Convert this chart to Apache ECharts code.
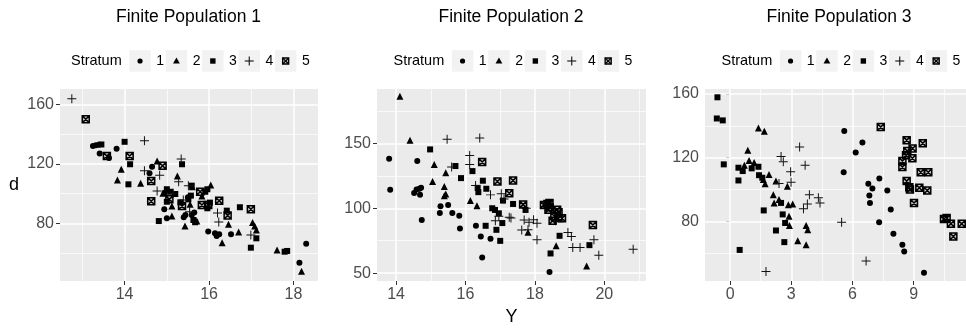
<!DOCTYPE html>
<html lang="en">
<head>
    <meta charset="UTF-8">
    <title>Finite Population</title>
    <script src="https://cdn.jsdelivr.net/npm/echarts@6/dist/echarts.min.js"></script>
    <style>
        html, body {margin: 0; padding: 0; background: #fff;}
        #ec {width: 966px; height: 331px;}
    </style>
</head>
<body>
<div id="ec"></div>
<script>
    // strata and titles
    var strata = ['1', '2', '3', '4', '5'];
    var titles = ['Finite Population 1', 'Finite Population 2', 'Finite Population 3'];

    // Finite Population 1 : [Y, d]
    var pop1Str1 = [[13.25, 132], [13.32, 132.5], [13.39, 132.8], [13.41, 127], [13.63, 123.9], [13.81, 130.2], [14.59, 113.6],
        [14.65, 118.1], [14.94, 89.4], [15.0, 83.4], [15.4, 84], [15.44, 85.6], [15.59, 85.6], [15.65, 87.2], [15.98, 74.4],
        [16.14, 73.3], [16.18, 71.5], [16.24, 72.6], [16.52, 72.6], [18.3, 66.3], [18.14, 53.5], [14.95, 100.5], [15.5, 97.5]];
    var pop1Str2 = [[13.92, 116.3], [13.83, 109.1], [14.38, 106.9], [14.77, 121.9], [15.25, 111.8], [16.04, 105.7], [15.83, 98.4],
        [14.91, 100.2], [15.12, 91.6], [15.55, 92.8], [15.12, 84.9], [15.43, 78.2], [15.71, 81.5], [16.31, 67], [16.46, 79.4],
        [16.7, 74.2], [17.03, 80.6], [17.08, 78.2], [17.12, 75.5], [17.61, 62], [18.19, 47.7], [15.6, 104.5]];
    var pop1Str3 = [[13.45, 133], [14.0, 134.8], [14.13, 119.7], [14.09, 106.2], [14.81, 81.5], [15.36, 119.7], [15.59, 105.3],
        [15.91, 101.2], [15.96, 102.9], [15.0, 102.9], [15.08, 101.2], [15.2, 99.7], [15.0, 94.5], [15.32, 94.1], [15.51, 96.1],
        [15.57, 98.6], [15.96, 90.1], [16.02, 93.9], [16.42, 88.5], [16.73, 90.8], [17.12, 69.9], [16.99, 63.6], [17.79, 60.9],
        [17.85, 61.4], [15.63, 82.2], [15.67, 80.7]];
    var pop1Str4 = [[12.75, 163.8], [14.47, 135.5], [14.47, 115.4], [14.83, 112.3], [14.77, 101.7], [15.34, 123.2], [15.28, 108],
        [15.51, 105.3], [15.39, 95.7], [15.54, 87.8], [16.2, 87], [16.23, 80.8], [16.99, 72.1], [15.15, 100.2]];
    var pop1Str5 = [[13.08, 149.9], [13.58, 125.2], [14.12, 125.2], [14.9, 118.7], [14.63, 108.4], [14.63, 94.8], [15.06, 96.1],
        [15.36, 91.6], [15.79, 101.2], [15.83, 92.3], [15.98, 92.3], [16.24, 95.1], [16.44, 85.3], [16.99, 89.4]];

    // Finite Population 2
    var pop2Str1 = [[13.8, 138.1], [13.83, 114.2], [14.61, 136.3], [14.52, 111.8], [14.59, 114.4], [14.67, 115], [14.72, 115.7],
        [14.69, 110.3], [14.74, 91], [15.28, 101.6], [15.5, 102.6], [15.26, 96.4], [15.62, 96.4], [15.82, 94.3], [15.84, 84.5],
        [16.3, 86.5], [16.44, 78.3], [16.48, 62.1], [16.72, 76.6], [18.42, 51]];
    var pop2Str2 = [[14.11, 186.3], [14.4, 152.3], [15.1, 133.7], [15.05, 120.6], [15.43, 127.3], [15.39, 116.7], [15.43, 111],
        [15.39, 109.7], [16.14, 105.9], [16.33, 102], [17.8, 81.5], [18.61, 71.1], [19.49, 55.6]];
    var pop2Str3 = [[14.98, 145.3], [15.71, 132.5], [15.87, 123.2], [16.2, 128.6], [16.5, 121.2], [16.35, 115.7], [16.37, 112.4],
        [16.6, 115], [16.58, 86.5], [16.77, 100], [16.85, 98.7], [16.96, 96.1], [16.89, 83.4], [17.0, 74.9], [17.08, 105.9],
        [17.06, 88.6], [17.37, 103.3], [17.73, 98.7], [18.71, 78.8], [18.45, 65.2], [19.57, 71.6]];
    var pop2Str4 = [[15.47, 153.1], [16.41, 154.1], [15.6, 131.7], [16.12, 140.7], [16.12, 133.7], [16.29, 117.5], [16.72, 110.3],
        [16.86, 90.4], [16.96, 93.8], [17.03, 111.1], [17.11, 107.2], [17.26, 93], [17.31, 92.5], [17.75, 100], [17.62, 83.2],
        [17.8, 83.4], [17.69, 91], [17.83, 89.2], [17.96, 91.2], [18.06, 88.4], [18.06, 75.7], [18.59, 90.4], [18.95, 81.4],
        [19.05, 78.3], [19.09, 69.8], [19.3, 69.8], [19.7, 75.7], [19.84, 63.9], [20.83, 68.5]];
    var pop2Str5 = [[16.48, 135.6], [16.92, 120.6], [17.37, 121.3], [17.26, 111.6], [17.66, 102.8], [18.26, 102.6], [18.36, 103.3],
        [18.42, 104.1], [18.42, 100.8], [18.39, 98.9], [18.51, 90.4], [18.64, 98.9], [18.68, 96.9], [18.56, 93.8], [18.68, 92.5],
        [18.78, 92.3], [19.67, 87.1]];

    // Finite Population 3
    var pop3Str1 = [[5.6, 136.8], [6.16, 123.2], [6.49, 129.5], [5.57, 110.9], [6.78, 103.6], [6.98, 100.6], [6.83, 96.2],
        [6.86, 91.6], [7.32, 107], [7.71, 99.4], [7.88, 87.4], [7.31, 79.4], [8.01, 72.2], [8.45, 65.3], [8.54, 61.1], [9.51, 47.8]];
    var pop3Str2 = [[1.39, 138.7], [1.68, 136.6], [0.87, 124.6], [0.7, 115.2], [0.93, 118.3], [1.18, 116.9], [1.91, 109.5],
        [1.72, 103.6], [1.63, 106.3], [2.25, 105.3], [2.81, 102.1], [2.12, 96.7], [2.16, 91.6], [2.4, 93.7], [2.86, 90.5],
        [3.07, 91], [2.89, 83.2], [2.91, 77.5], [3.32, 67.8], [3.73, 77.5], [3.81, 74.8], [3.73, 65.3]];
    var pop3Str3 = [[-0.62, 157.9], [-0.65, 144.6], [-0.36, 143.4], [-0.31, 115.8], [0.41, 113.7], [0.62, 111.6], [1.06, 113.3],
        [1.39, 114.3], [0.41, 105.7], [1.42, 109], [1.58, 107.4], [2.5, 91.6], [1.65, 86.9], [2.58, 84.4], [2.7, 79],
        [2.25, 74.3], [2.66, 67], [0.47, 62.1]];
    var pop3Str4 = [[2.4, 103.8], [2.99, 104.6], [2.97, 111.2], [2.5, 120.7], [2.61, 117.5], [3.41, 126.7], [3.68, 115.2],
        [3.89, 96.7], [4.33, 94.8], [4.41, 91.6], [3.79, 91], [3.6, 88], [5.47, 79.4], [6.67, 55.2], [1.76, 48.5]];
    var pop3Str5 = [[7.39, 139.3], [8.66, 131], [9.45, 129.1], [8.95, 125.7], [8.69, 124.2], [8.63, 121.5], [8.94, 119.6],
        [8.45, 117.9], [8.45, 114.1], [9.35, 110.9], [9.72, 110.9], [8.66, 105.3], [8.79, 101.5], [8.82, 100], [9.28, 101.1],
        [9.67, 99.4], [9.02, 91.6], [10.49, 81.5], [10.62, 82.1], [10.83, 78.5], [11.36, 78.5], [10.95, 70.5]];

    // axis ranges and breaks
    var pop1XRange = [12.47, 18.58], pop1YRange = [41.2, 170.3];
    var pop2XRange = [13.45, 21.2], pop2YRange = [44, 191.8];
    var pop3XRange = [-1.23, 11.57], pop3YRange = [42.6, 163.1];
    var pop1XTicks = [14, 16, 18], pop1XMinor = [13, 15, 17];
    var pop1YTicks = [80, 120, 160], pop1YMinor = [60, 100, 140];
    var pop2XTicks = [14, 16, 18, 20], pop2XMinor = [15, 17, 19, 21];
    var pop2YTicks = [50, 100, 150], pop2YMinor = [75, 125, 175];
    var pop3XTicks = [0, 3, 6, 9], pop3XMinor = [1.5, 4.5, 7.5, 10.5];
    var pop3YTicks = [80, 120, 160], pop3YMinor = [60, 100, 140];

    var FONT = '"Liberation Sans", Arial, Helvetica, sans-serif';
    var panels = [
        {data: [pop1Str1, pop1Str2, pop1Str3, pop1Str4, pop1Str5], xr: pop1XRange, yr: pop1YRange,
            xt: pop1XTicks, xm: pop1XMinor, yt: pop1YTicks, ym: pop1YMinor,
            grid: {left: 60, top: 89, width: 258, height: 192}, dx: 0},
        {data: [pop2Str1, pop2Str2, pop2Str3, pop2Str4, pop2Str5], xr: pop2XRange, yr: pop2YRange,
            xt: pop2XTicks, xm: pop2XMinor, yt: pop2YTicks, ym: pop2YMinor,
            grid: {left: 377, top: 89, width: 269, height: 192}, dx: 322.5},
        {data: [pop3Str1, pop3Str2, pop3Str3, pop3Str4, pop3Str5], xr: pop3XRange, yr: pop3YRange,
            xt: pop3XTicks, xm: pop3XMinor, yt: pop3YTicks, ym: pop3YMinor,
            grid: {left: 705, top: 89, width: 261, height: 192}, dx: 650.5}
    ];

    // ggplot shapes 16, 17, 15, 3, 7
    var PLUS = 'path://M4.45,0H5.55V4.45H10V5.55H5.55V10H4.45V5.55H0V4.45H4.45Z';
    var BOXX = 'path://M0,0H10V10H0Z M0,0L10,10 M10,0L0,10';
    var shapes = [
        {symbol: 'circle', size: 6, style: {color: '#000'}},
        {symbol: 'triangle', size: 7, style: {color: '#000'}},
        {symbol: 'rect', size: 6, style: {color: '#000'}},
        {symbol: PLUS, size: 9, style: {color: '#111'}},
        {symbol: BOXX, size: 7, style: {color: 'rgba(0,0,0,0.15)', borderColor: '#000', borderWidth: 1.5}}
    ];

    var grids = [], xAxes = [], yAxes = [], series = [], graphics = [];

    panels.forEach(function (p, i) {
        grids.push(Object.assign({show: true, backgroundColor: '#EBEBEB', borderWidth: 0}, p.grid));
        xAxes.push({
            gridIndex: i, type: 'value', min: p.xr[0], max: p.xr[1],
            name: i === 1 ? 'Y' : '', nameLocation: 'middle', nameGap: 22,
            nameTextStyle: {color: '#000', fontSize: 18, fontFamily: FONT},
            axisLine: {show: false}, splitLine: {show: false},
            axisTick: {show: true, length: 4, customValues: p.xt, lineStyle: {color: '#333', width: 1}},
            axisLabel: {customValues: p.xt, color: '#4D4D4D', fontSize: 16, margin: 6, fontFamily: FONT}
        });
        yAxes.push({
            gridIndex: i, type: 'value', min: p.yr[0], max: p.yr[1],
            name: i === 0 ? 'd' : '', nameLocation: 'middle', nameGap: 41, nameRotate: 0,
            nameTextStyle: {color: '#000', fontSize: 18, fontFamily: FONT},
            axisLine: {show: false}, splitLine: {show: false},
            axisTick: {show: true, length: 4, customValues: p.yt, lineStyle: {color: '#333', width: 1}},
            axisLabel: {customValues: p.yt, color: '#4D4D4D', fontSize: 16, margin: 6, fontFamily: FONT}
        });

        // panel grid lines
        var lines = [];
        p.xm.forEach(function (v) { lines.push({xAxis: v, lineStyle: {width: 0.7}}); });
        p.ym.forEach(function (v) { lines.push({yAxis: v, lineStyle: {width: 0.7}}); });
        p.xt.forEach(function (v) { lines.push({xAxis: v, lineStyle: {width: 1.5}}); });
        p.yt.forEach(function (v) { lines.push({yAxis: v, lineStyle: {width: 1.5}}); });
        series.push({
            type: 'scatter', xAxisIndex: i, yAxisIndex: i, data: [], silent: true,
            markLine: {silent: true, symbol: ['none', 'none'], label: {show: false},
                lineStyle: {color: '#fff', type: 'solid'}, animation: false, data: lines}
        });

        p.data.forEach(function (d, s) {
            series.push({
                name: strata[s], type: 'scatter', xAxisIndex: i, yAxisIndex: i, z: 10,
                symbol: shapes[s].symbol, symbolSize: shapes[s].size,
                itemStyle: Object.assign({opacity: 1}, shapes[s].style),
                data: d
            });
        });

        // title
        graphics.push({
            type: 'text', x: 188.5 + p.dx, y: 17,
            style: {text: titles[i], fill: '#000', font: '17.5px ' + FONT, align: 'center', verticalAlign: 'middle',
                textAlign: 'center', textVerticalAlign: 'middle'}
        });
        // legend
        graphics.push({
            type: 'text', x: 71 + p.dx, y: 61,
            style: {text: 'Stratum', fill: '#000', font: '14.5px ' + FONT, align: 'left', verticalAlign: 'middle',
                textAlign: 'left', textVerticalAlign: 'middle'}
        });
        strata.forEach(function (lab, s) {
            var bx = 129.3 + p.dx + s * 36.4, cx = bx + 10.75, cy = 61;
            graphics.push({type: 'rect', shape: {x: bx, y: 50.2, width: 21.5, height: 21.5}, style: {fill: '#F2F2F2'}});
            if (s === 0) graphics.push({type: 'circle', shape: {cx: cx, cy: cy, r: 2.6}, style: {fill: '#000'}});
            if (s === 1) graphics.push({type: 'polygon', shape: {points: [[cx, cy - 3.4], [cx + 3.4, cy + 2.5], [cx - 3.4, cy + 2.5]]}, style: {fill: '#000'}});
            if (s === 2) graphics.push({type: 'rect', shape: {x: cx - 2.7, y: cy - 2.7, width: 5.4, height: 5.4}, style: {fill: '#000'}});
            if (s === 3) {
                graphics.push({type: 'line', shape: {x1: cx - 4.5, y1: cy, x2: cx + 4.5, y2: cy}, style: {stroke: '#111', lineWidth: 1.1}});
                graphics.push({type: 'line', shape: {x1: cx, y1: cy - 4.5, x2: cx, y2: cy + 4.5}, style: {stroke: '#111', lineWidth: 1.1}});
            }
            if (s === 4) {
                graphics.push({type: 'rect', shape: {x: cx - 3, y: cy - 3, width: 6, height: 6}, style: {fill: 'rgba(0,0,0,0.15)', stroke: '#000', lineWidth: 1.4}});
                graphics.push({type: 'line', shape: {x1: cx - 3, y1: cy - 3, x2: cx + 3, y2: cy + 3}, style: {stroke: '#000', lineWidth: 1.2}});
                graphics.push({type: 'line', shape: {x1: cx + 3, y1: cy - 3, x2: cx - 3, y2: cy + 3}, style: {stroke: '#000', lineWidth: 1.2}});
            }
            graphics.push({
                type: 'text', x: bx + 27, y: cy,
                style: {text: lab, fill: '#000', font: '14px ' + FONT, align: 'left', verticalAlign: 'middle',
                    textAlign: 'left', textVerticalAlign: 'middle'}
            });
        });
    });

    var myChart = echarts.init(document.getElementById('ec'));
    myChart.setOption({
        animation: false,
        backgroundColor: '#fff',
        textStyle: {fontFamily: FONT},
        grid: grids,
        xAxis: xAxes,
        yAxis: yAxes,
        graphic: graphics,
        series: series
    });
</script>
</body>
</html>
